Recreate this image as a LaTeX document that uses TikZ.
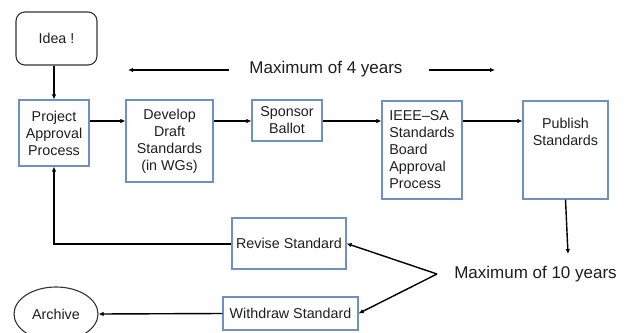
\documentclass[tikz,border=0pt]{standalone}
\usepackage{fontspec}
\setmainfont{Liberation Sans}
\usetikzlibrary{arrows.meta,shapes.geometric}
\definecolor{boxblue}{RGB}{110,145,195}
\definecolor{ink}{RGB}{30,30,30}
\begin{document}
\begin{tikzpicture}[x=1pt,y=-1pt,
  box/.style={draw=boxblue,line width=1.1pt,inner sep=0pt,align=center,text=ink,
    font=\fontsize{14.3}{17}\selectfont},
  bigtext/.style={text=ink,inner sep=0pt,font=\fontsize{17}{20}\selectfont},
  arr/.style={-{Latex[length=5pt,width=4.5pt]},line width=1.4pt,draw=black},
  ]
\useasboundingbox (0,0) rectangle (629,332);
\begin{scope}
\clip (0,0) rectangle (629,332);
\node[box,draw=black!80,rounded corners=9pt,minimum width=81pt,minimum height=53pt] (idea) at (56.5,38.5) {Idea !};
\node[box,minimum width=70pt,minimum height=66pt] (proj) at (54,133) {Project\\Approval\\Process};
\node[box,minimum width=87pt,minimum height=82pt] (dev) at (169.5,141) {Develop\\Draft\\Standards\\(in WGs)};
\node[box,minimum width=70pt,minimum height=41pt] (spon) at (287,120.5) {Sponsor\\Ballot};
\node[box,align=left,minimum width=80pt,minimum height=98pt] (ieee) at (422,150) {IEEE--SA\\Standards\\Board\\Approval\\Process};
\node[box,minimum width=85pt,minimum height=98pt] (pub) at (565.5,150) {};
\node[text=ink,align=center,inner sep=0pt,font=\fontsize{14.3}{17}\selectfont] (pubtext) at (565.5,132) {Publish\\Standards};
\node[box,minimum width=114pt,minimum height=51pt] (rev) at (289,243.5) {Revise Standard};
\node[box,minimum width=135pt,minimum height=33pt] (wd) at (290.5,313.5) {Withdraw Standard};
\node[box,draw=black!80,ellipse,minimum width=84pt,minimum height=54pt] (arch) at (56,314) {Archive};
\node[bigtext] (max4) at (326,69) {Maximum of 4 years};
\node[bigtext] (max10) at (535.5,274) {Maximum of 10 years};

\coordinate (row) at (0,121);
\coordinate (l4a) at (229,70);
\coordinate (l4b) at (128,70);
\coordinate (r4a) at (429,70);
\coordinate (r4b) at (495,70);
\coordinate (down) at (568,254);
\coordinate (apex) at (437,274);

\draw[arr] (proj.north |- idea.south) -- (proj.north);
\draw[arr] (proj.east |- row) -- (dev.west |- row);
\draw[arr] (dev.east |- row) -- (spon.west |- row);
\draw[arr] (spon.east |- row) -- (ieee.west |- row);
\draw[arr] (ieee.east |- row) -- (pub.west |- row);
\draw[arr] (l4a) -- (l4b);
\draw[arr] (r4a) -- (r4b);
\draw[arr] (pub.south) -- (down);
\draw[arr,line width=2pt] (rev.west) -| (proj.south);
\draw[arr] (apex) -- (rev.east);
\draw[arr] (apex) -- (wd.east);
\draw[arr] (wd.west) -- (arch.east);
\end{scope}
\end{tikzpicture}
\end{document}
